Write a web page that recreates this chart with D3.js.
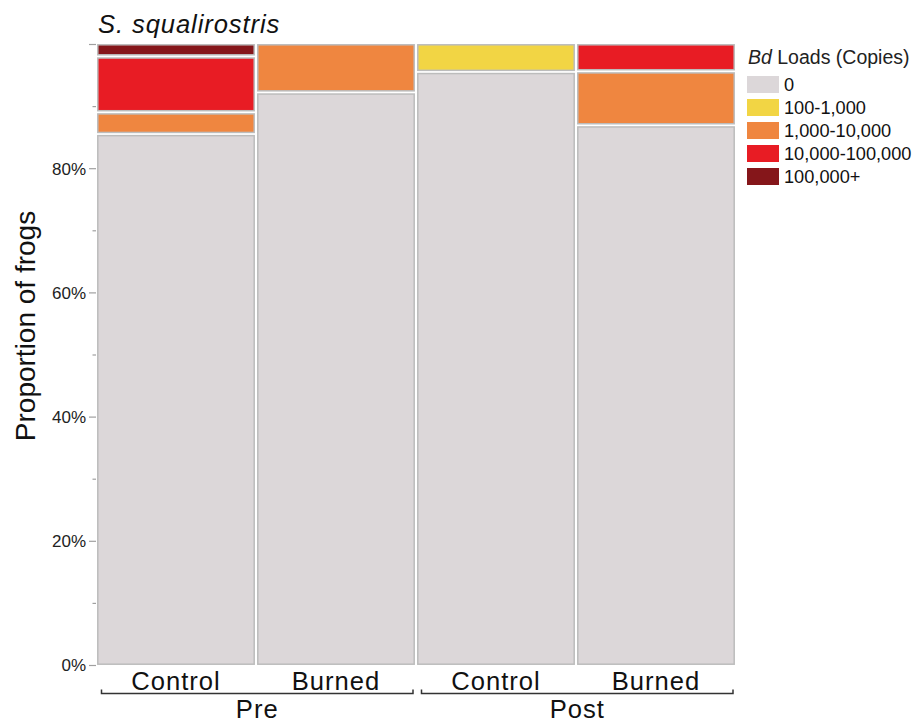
<!DOCTYPE html>
<html><head><meta charset="utf-8">
<script src="https://cdn.jsdelivr.net/npm/d3@7"></script>
<style>body{margin:0;background:#fff}svg{font-family:"Liberation Sans",Arial,sans-serif}</style>
</head><body>
<svg id="c" width="918" height="722"></svg>
<script>
const groups = ["Pre-Control","Pre-Burned","Post-Control","Post-Burned"];
const treatments = ["Control","Burned","Control","Burned"];
const periods = ["Pre","Post"];
const loadLevels = ["0","100-1,000","1,000-10,000","10,000-100,000","100,000+"];
const colors = ["#dcd7d9","#f2d544","#ef8640","#e81c24","#85161a"];
// proportions per group, in order of loadLevels
const preControl  = [0.855, 0, 0.035, 0.090, 0.020];
const preBurned   = [0.922, 0, 0.078, 0, 0];
const postControl = [0.955, 0.045, 0, 0, 0];
const postBurned  = [0.869, 0, 0.087, 0.044, 0];
const values = [preControl, preBurned, postControl, postBurned];
const yTicksMajor = [0,0.2,0.4,0.6,0.8,1.0];
const yTicksMinor = [0.1,0.3,0.5,0.7,0.9];

const svg = d3.select("#c");
const x = d3.scaleBand().domain(groups).range([97,735]).paddingInner(0.0125).paddingOuter(0);
const y = d3.scaleLinear().domain([0,1]).range([665,44]);
const gap = 1.6;

groups.forEach((g,i)=>{
  let cum = 0;
  const segs = values[i].map((v,k)=>({v,k})).filter(d=>d.v>0);
  segs.forEach((d,j)=>{
    const y0 = y(cum), y1 = y(cum+d.v);
    const top = y1 + (j<segs.length-1 ? gap : 0.8);
    const bot = y0 - (j>0 ? gap : 0.8);
    svg.append("rect")
      .attr("x", x(g)+0.8).attr("width", x.bandwidth()-1.6)
      .attr("y", top).attr("height", bot-top)
      .attr("fill", colors[d.k]).attr("stroke","#bcbcbc").attr("stroke-width",1.5);
    cum += d.v;
  });
});

// y axis ticks
const yAxis = d3.axisLeft(y).tickValues(yTicksMajor).tickSize(7).tickPadding(3)
  .tickFormat(d=> d<1 ? d3.format(".0%")(d) : "");
const ga = svg.append("g").attr("transform","translate(96,0)").call(yAxis);
ga.select(".domain").remove();
ga.selectAll(".tick line").attr("stroke","#a0a0a0").attr("stroke-width",1.2);
ga.selectAll(".tick text").attr("font-size",17).attr("fill","#222").attr("dy","0.35em");
const gm = svg.append("g").attr("transform","translate(96,0)").call(d3.axisLeft(y).tickValues(yTicksMinor).tickSize(3.5).tickFormat(""));
gm.select(".domain").remove();
gm.selectAll(".tick line").attr("stroke","#a0a0a0").attr("stroke-width",1.2);

// x labels
groups.forEach((g,i)=>{
  svg.append("text").attr("x", x(g)+x.bandwidth()/2).attr("y",690)
    .attr("text-anchor","middle").attr("font-size",25.6).attr("letter-spacing","1px")
    .attr("fill","#111").text(treatments[i]);
});
// brackets
periods.forEach((p,i)=>{
  const xa = x(groups[i*2])+4.5, xb = x(groups[i*2+1])+x.bandwidth()-2;
  svg.append("path").attr("d",`M${xa},689.5V693.5H${xb}V689.5`).attr("fill","none").attr("stroke","#333").attr("stroke-width",1.5);
  svg.append("text").attr("x",(xa+xb)/2).attr("y",717.5).attr("text-anchor","middle")
    .attr("font-size",25.6).attr("letter-spacing","1px").attr("fill","#111").text(p);
});

// y label
svg.append("text").attr("transform","translate(35,326) rotate(-90)").attr("text-anchor","middle")
  .attr("font-size",28).attr("fill","#111").text("Proportion of frogs");
// title
svg.append("text").attr("x",98).attr("y",33).attr("font-size",25.6).attr("letter-spacing","0.9px")
  .attr("font-style","italic").attr("fill","#111").text("S. squalirostris");

// legend
const lt = svg.append("text").attr("x",748).attr("y",63.5).attr("font-size",19.5).attr("fill","#222");
lt.append("tspan").attr("font-style","italic").text("Bd");
lt.append("tspan").text(" Loads (Copies)");
loadLevels.forEach((l,i)=>{
  const yy = 76 + i*23;
  svg.append("rect").attr("x",747).attr("y",yy).attr("width",32).attr("height",17).attr("fill",colors[i]);
  svg.append("text").attr("x",784).attr("y",yy+8.5).attr("dy","0.36em").attr("font-size",18.2).attr("fill","#111").text(l);
});
</script>
</body></html>
